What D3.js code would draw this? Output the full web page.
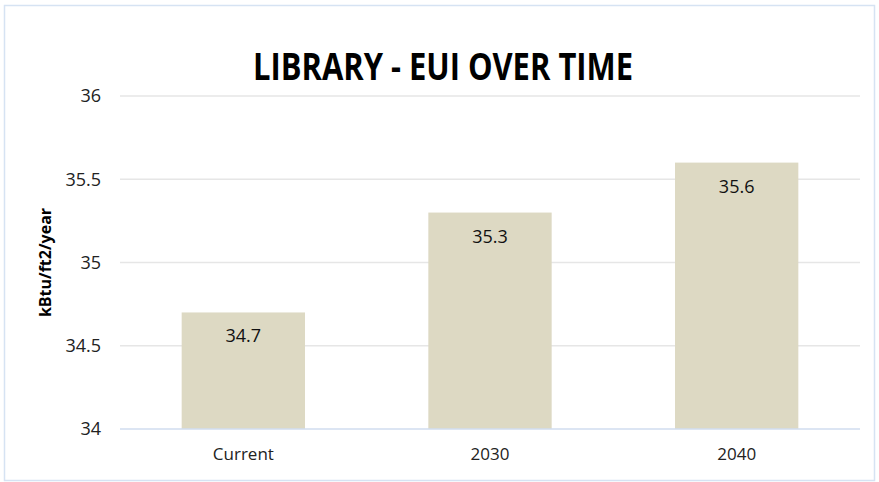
<!DOCTYPE html>
<html>
<head>
<meta charset="utf-8">
<script src="https://cdn.jsdelivr.net/npm/d3@7"></script>
<style>
  html, body { margin: 0; padding: 0; background: #ffffff; }
  svg { display: block; }
</style>
</head>
<body>
<script>
// EUI per period, kBtu/ft2/year
const categories = ["Current", "2030", "2040"];
const euiValues = [34.7, 35.3, 35.6];
const yTicks = [34, 34.5, 35, 35.5, 36];
const chartTitle = "LIBRARY - EUI OVER TIME";
const yAxisTitle = "kBtu/ft2/year";

const W = 879, H = 482;
const margin = { left: 120, right: 19, top: 96, bottom: 53 };
const font = "'Open Sans', 'DejaVu Sans', sans-serif";

const svg = d3.select("body").append("svg")
  .attr("width", W).attr("height", H);

// outer chart frame
svg.append("rect")
  .attr("x", 4.5).attr("y", 5.5)
  .attr("width", W - 9).attr("height", H - 7)
  .attr("fill", "#ffffff")
  .attr("stroke", "#d6e3f3").attr("stroke-width", 1.5);

const x = d3.scaleBand()
  .domain(categories)
  .range([margin.left, W - margin.right])
  .paddingInner(0.5).paddingOuter(0.25);

const y = d3.scaleLinear()
  .domain([34, 36])
  .range([H - margin.bottom, margin.top]);

// horizontal gridlines
svg.append("g")
  .selectAll("line")
  .data(yTicks.filter(t => t !== 34))
  .join("line")
  .attr("x1", margin.left).attr("x2", W - margin.right)
  .attr("y1", d => y(d)).attr("y2", d => y(d))
  .attr("stroke", "#e6e6e6").attr("stroke-width", 1.5);

// y axis tick labels
const yAxis = d3.axisLeft(y).tickValues(yTicks).tickSize(0).tickPadding(19)
  .tickFormat(d => d3.format("")(d));
const gy = svg.append("g")
  .attr("transform", `translate(${margin.left},0)`)
  .call(yAxis);
gy.select(".domain").remove();
gy.selectAll("text")
  .attr("font-family", font).attr("font-size", 18).attr("fill", "#222");

// bars
svg.append("g")
  .selectAll("rect")
  .data(categories.map((c, i) => ({ c, v: euiValues[i] })))
  .join("rect")
  .attr("x", d => x(d.c))
  .attr("width", x.bandwidth())
  .attr("y", d => y(d.v))
  .attr("height", d => y(34) - y(d.v))
  .attr("fill", "#ddd9c3");

// value labels inside bars
svg.append("g")
  .selectAll("text")
  .data(categories.map((c, i) => ({ c, v: euiValues[i] })))
  .join("text")
  .attr("x", d => x(d.c) + x.bandwidth() / 2)
  .attr("y", d => y(d.v) + 30)
  .attr("text-anchor", "middle")
  .attr("font-family", font).attr("font-size", 18).attr("fill", "#111")
  .text(d => d.v);

// x axis
const xAxis = d3.axisBottom(x).tickSize(0).tickPadding(19);
const gx = svg.append("g")
  .attr("transform", `translate(0,${y(34)})`)
  .call(xAxis);
gx.select(".domain").remove();
gx.append("line")
  .attr("x1", margin.left).attr("x2", W - margin.right)
  .attr("y1", 0).attr("y2", 0)
  .attr("stroke", "#d0ddef").attr("stroke-width", 1.5);
gx.selectAll("text")
  .attr("font-family", font).attr("font-size", 17).attr("fill", "#222");

// title
svg.append("text")
  .attr("x", 443).attr("y", 80)
  .attr("text-anchor", "middle")
  .attr("font-family", font).attr("font-weight", "bold")
  .attr("font-size", 37).attr("fill", "#000")
  .attr("textLength", 380).attr("lengthAdjust", "spacingAndGlyphs")
  .text(chartTitle);

// y axis title
svg.append("text")
  .attr("transform", `translate(51,${(y(34) + y(36)) / 2}) rotate(-90)`)
  .attr("text-anchor", "middle")
  .attr("font-family", font).attr("font-weight", "bold")
  .attr("font-size", 16).attr("fill", "#000")
  .text(yAxisTitle);
</script>
</body>
</html>
